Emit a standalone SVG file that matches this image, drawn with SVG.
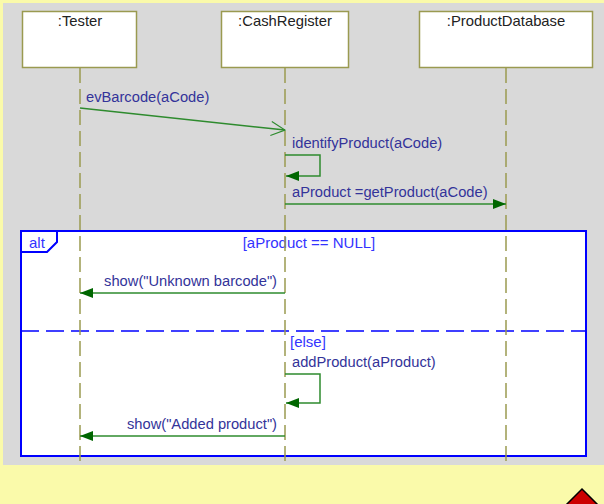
<svg xmlns="http://www.w3.org/2000/svg" width="604" height="504" viewBox="0 0 604 504">
<style>
.lbox{fill:#ffffff;stroke:#9a9a50;stroke-width:1.5}
.life{stroke:#9a9a50;stroke-width:1.5;stroke-dasharray:15,6;fill:none}
.title{font-family:"Liberation Sans",Arial,sans-serif;font-size:14.8px;fill:#222222;text-anchor:middle}
.msg{font-family:"Liberation Sans",Arial,sans-serif;font-size:14.7px;fill:#333399}
.guard{font-family:"Liberation Sans",Arial,sans-serif;font-size:15px;fill:#3333ff}
.ml{stroke:#2e8b2e;stroke-width:1.5;fill:none}
.frame{fill:#ffffff;stroke:#0000ff;stroke-width:2}
.sep{stroke:#0000ff;stroke-width:1.5;stroke-dasharray:18,7;fill:none}
</style>
<defs>
<marker id="filled" markerUnits="userSpaceOnUse" markerWidth="13" markerHeight="10" viewBox="0 0 13 10" refX="13" refY="5" orient="auto">
<path d="M0,0 L13,5 L0,10 Z" fill="#006600"/>
</marker>
<marker id="open" markerUnits="userSpaceOnUse" markerWidth="16" markerHeight="16" viewBox="0 0 16 16" refX="15" refY="8" orient="auto">
<path d="M1,1 L15,8 L1,15" fill="none" stroke="#2e8b2e" stroke-width="1.2"/>
</marker>
</defs>
<rect x="0" y="0" width="604" height="504" fill="#fafaaa"/>
<rect x="3" y="3" width="601" height="462" fill="#d9d9d9"/>
<polygon points="582,489 599,506 582,523 565,506" fill="#cc0000" stroke="#000000" stroke-width="1.5"/>

<g id="alt-frame">
<rect class="frame" x="21" y="231" width="565" height="225"/>
<path d="M21,252 H47 L57,242 V231" fill="none" stroke="#0000ff" stroke-width="2"/>
<text class="guard" x="29" y="248">alt</text>
<text class="guard" x="309" y="248" text-anchor="middle">[aProduct == NULL]</text>
<line class="sep" x1="21" y1="331" x2="586" y2="331"/>
<text class="guard" x="290" y="347">[else]</text>
</g>

<g id="tester">
<rect class="lbox" x="22.5" y="11.5" width="114" height="56"/>
<text class="title" x="80" y="26">:Tester</text>
<line class="life" x1="80" y1="68" x2="80" y2="465"/>
</g>
<g id="cashregister">
<rect class="lbox" x="221.5" y="11.5" width="127" height="56"/>
<text class="title" x="285" y="26">:CashRegister</text>
<line class="life" x1="285" y1="68" x2="285" y2="465"/>
</g>
<g id="productdatabase">
<rect class="lbox" x="419.5" y="11.5" width="173" height="56"/>
<text class="title" x="506" y="26">:ProductDatabase</text>
<line class="life" x1="506" y1="68" x2="506" y2="465"/>
</g>

<g id="connectors">
<line class="ml" x1="80" y1="108" x2="285" y2="130" marker-end="url(#open)"/>
<text class="msg" x="86" y="102">evBarcode(aCode)</text>

<path class="ml" d="M285,155 H320 V176 H286" marker-end="url(#filled)"/>
<text class="msg" x="292" y="148">identifyProduct(aCode)</text>

<line class="ml" x1="285" y1="204" x2="506" y2="204" marker-end="url(#filled)"/>
<text class="msg" x="292" y="197">aProduct =getProduct(aCode)</text>

<line class="ml" x1="285" y1="293" x2="80" y2="293" marker-end="url(#filled)"/>
<text class="msg" x="277" y="286" text-anchor="end">show("Unknown barcode")</text>

<path class="ml" d="M285,374 H320 V403 H286" marker-end="url(#filled)"/>
<text class="msg" x="292" y="367">addProduct(aProduct)</text>

<line class="ml" x1="285" y1="436" x2="80" y2="436" marker-end="url(#filled)"/>
<text class="msg" x="277" y="429" text-anchor="end">show("Added product")</text>
</g>
</svg>
